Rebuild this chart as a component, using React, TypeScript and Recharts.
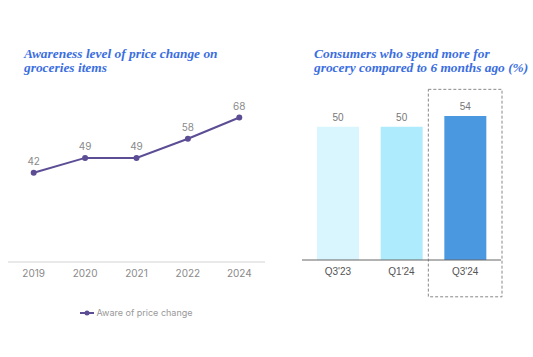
import React from 'react';
import {
  LineChart, Line, BarChart, Bar, XAxis, YAxis, LabelList, Legend, ReferenceArea, Cell,
} from 'recharts';

const years = ['2019', '2020', '2021', '2022', '2024'];
const awareness = [42, 49, 49, 58, 68];

const quarters = ["Q3'23", "Q1'24", "Q3'24"];
const spendMore = [50, 50, 54];
const barColors = ['#d9f5fd', '#aeebfc', '#4a98e0'];

const lineData = years.map((year, i) => ({ year, aware: awareness[i] }));
const barData = quarters.map((q, i) => ({ q, value: spendMore[i] }));

const titleStyle: React.CSSProperties = {
  position: 'absolute',
  fontFamily: '"Liberation Serif", serif',
  fontWeight: 'bold',
  fontStyle: 'italic',
  fontSize: 13.4,
  lineHeight: '13.5px',
  color: '#3b6ee0',
  whiteSpace: 'nowrap',
};

function LegendContent() {
  return (
    <div style={{ display: 'flex', justifyContent: 'center', alignItems: 'center', fontFamily: 'Inter, sans-serif', fontSize: 9, color: '#999' }}>
      <svg width={14} height={6} style={{ marginRight: 2 }}>
        <line x1={0} y1={3} x2={14} y2={3} stroke="#5c4d94" strokeWidth={2} />
        <circle cx={7} cy={3} r={2.5} fill="#5c4d94" />
      </svg>
      <span>Aware of price change</span>
    </div>
  );
}

function HighlightBox(props: any) {
  const { x, y, width, height } = props;
  return (
    <rect x={x - 5} y={y} width={width + 10} height={height} fill="none" stroke="#888" strokeDasharray="3 2" strokeWidth={1} />
  );
}

export default function App() {
  return (
    <div style={{ position: 'absolute', left: 0, top: 0, width: 533, height: 357, background: '#fff', overflow: 'hidden' }}>
      <div style={{ ...titleStyle, left: 24, top: 47 }}>
        Awareness level of price change on<br />groceries items
      </div>
      <div style={{ ...titleStyle, left: 314, top: 47 }}>
        Consumers who spend more for<br />grocery compared to 6 months ago (%)
      </div>

      <div style={{ position: 'absolute', left: 0, top: 0 }}>
        <LineChart width={275} height={330} data={lineData} margin={{ top: 92, right: 10, left: 8, bottom: 12 }}>
          <XAxis
            dataKey="year"
            axisLine={{ stroke: '#e2e2e2', strokeWidth: 1.5 }}
            tickLine={false}
            interval={0}
            padding={{ left: 25.7, right: 25.7 }}
            tick={{ fill: '#8a8a8a', fontSize: 10, fontFamily: 'Inter, sans-serif' }}
            height={45}
          />
          <YAxis hide domain={[0, 80]} />
          <Legend verticalAlign="bottom" content={<LegendContent />} />
          <Line
            dataKey="aware"
            stroke="#5c4d94"
            strokeWidth={2}
            dot={{ r: 2, fill: '#5c4d94', stroke: '#5c4d94' }}
            isAnimationActive={false}
          >
            <LabelList dataKey="aware" position="top" offset={8} fill="#8a8a8a" fontSize={10} fontFamily="Inter, sans-serif" />
          </Line>
        </LineChart>
      </div>

      <div style={{ position: 'absolute', left: 290, top: 0 }}>
        <BarChart width={243} height={300} data={barData} margin={{ top: 100, right: 32, left: 12, bottom: 10 }}>
          <XAxis
            dataKey="q"
            axisLine={{ stroke: '#666', strokeWidth: 1 }}
            tickLine={false}
            padding={{ left: 4, right: 4 }}
            tick={{ fill: '#555', fontSize: 10, fontFamily: '"Liberation Sans", Arial, sans-serif' }}
            height={30}
          />
          <YAxis hide domain={[0, 60]} />
          <Bar dataKey="value" barSize={42} isAnimationActive={false}>
            {barData.map((d, i) => (
              <Cell key={d.q} fill={barColors[i]} />
            ))}
            <LabelList dataKey="value" position="top" offset={6} fill="#777" fontSize={10} fontFamily='"Liberation Sans", Arial, sans-serif' />
          </Bar>
          <ReferenceArea x1="Q3'24" x2="Q3'24" y1={-13.8} y2={64} ifOverflow="visible" shape={<HighlightBox />} />
        </BarChart>
      </div>
    </div>
  );
}
